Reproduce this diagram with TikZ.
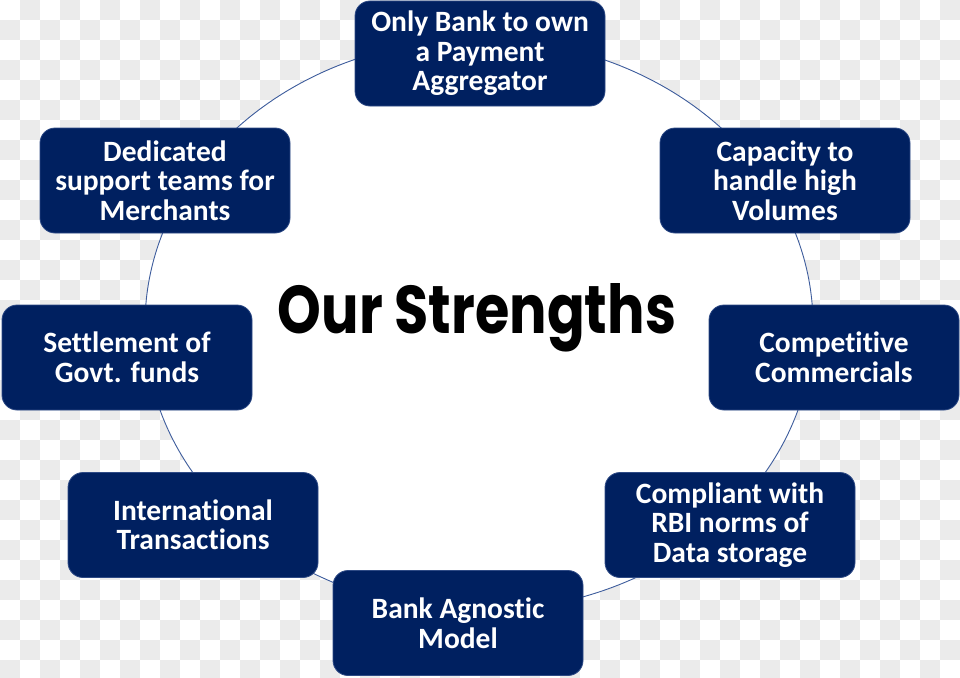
\documentclass[tikz,border=0pt]{standalone}
\usepackage{fontspec}
\setmainfont{Carlito}[Ligatures=NoCommon]
\newfontfamily\titlefont{Poppins}
\usepackage{graphicx}
\definecolor{boxblue}{HTML}{002060}
\definecolor{boxedge}{HTML}{2E4A85}
\definecolor{ringblue}{HTML}{3D5C9C}
\definecolor{checker}{HTML}{EBEBEB}
\begin{document}
\begin{tikzpicture}[x=1pt,y=-1pt,
  strength/.style={draw=boxedge, line width=0.8pt, fill=boxblue, rounded corners=15pt,
    minimum width=250pt, minimum height=105pt, text=white,
    font=\bfseries\fontsize{29.5}{29.5}\selectfont, align=center, inner sep=0pt},
  ring/.style={draw=ringblue, line width=0.9pt, fill=white},
  tile/.style={fill=checker}]
\useasboundingbox (0,0) rectangle (960,677);
\begin{scope}
  \clip (0,0) rectangle (960,677);
  \fill[white] (0,0) rectangle (960,677);
  \foreach \j in {0,2,...,32} \foreach \i in {1,3,...,47} \fill[tile] (20*\i,20*\j) rectangle ++(20,20);
  \foreach \j in {1,3,...,33} \foreach \i in {0,2,...,46} \fill[tile] (20*\i,20*\j) rectangle ++(20,20);
\end{scope}
\draw[ring] (479,325) ellipse [x radius=334pt, y radius=286pt];
\node[strength] (top) at (480,53.5) {Only Bank to own\\a Payment\\Aggregator};
\node[strength] (cap) at (785,180.5) {Capacity to\\handle high\\Volumes};
\node[strength] (comp) at (834,357.5) {Competitive\\Commercials};
\node[strength] (rbi) at (730,525) {Compliant with\\RBI norms of\\Data storage};
\node[strength] (agn) at (458,623) {Bank Agnostic\\Model};
\node[strength] (intl) at (193,525) {International\\Transactions};
\node[strength] (gov) at (127,357.5) {Settlement of\\Govt. funds};
\node[strength] (ded) at (165,180.5) {Dedicated\\support teams for\\Merchants};
\node[anchor=base, inner sep=0pt] (title) at (477,333) {\resizebox{398pt}{50pt}{\titlefont\bfseries Our Strengths}};
\end{tikzpicture}
\end{document}
